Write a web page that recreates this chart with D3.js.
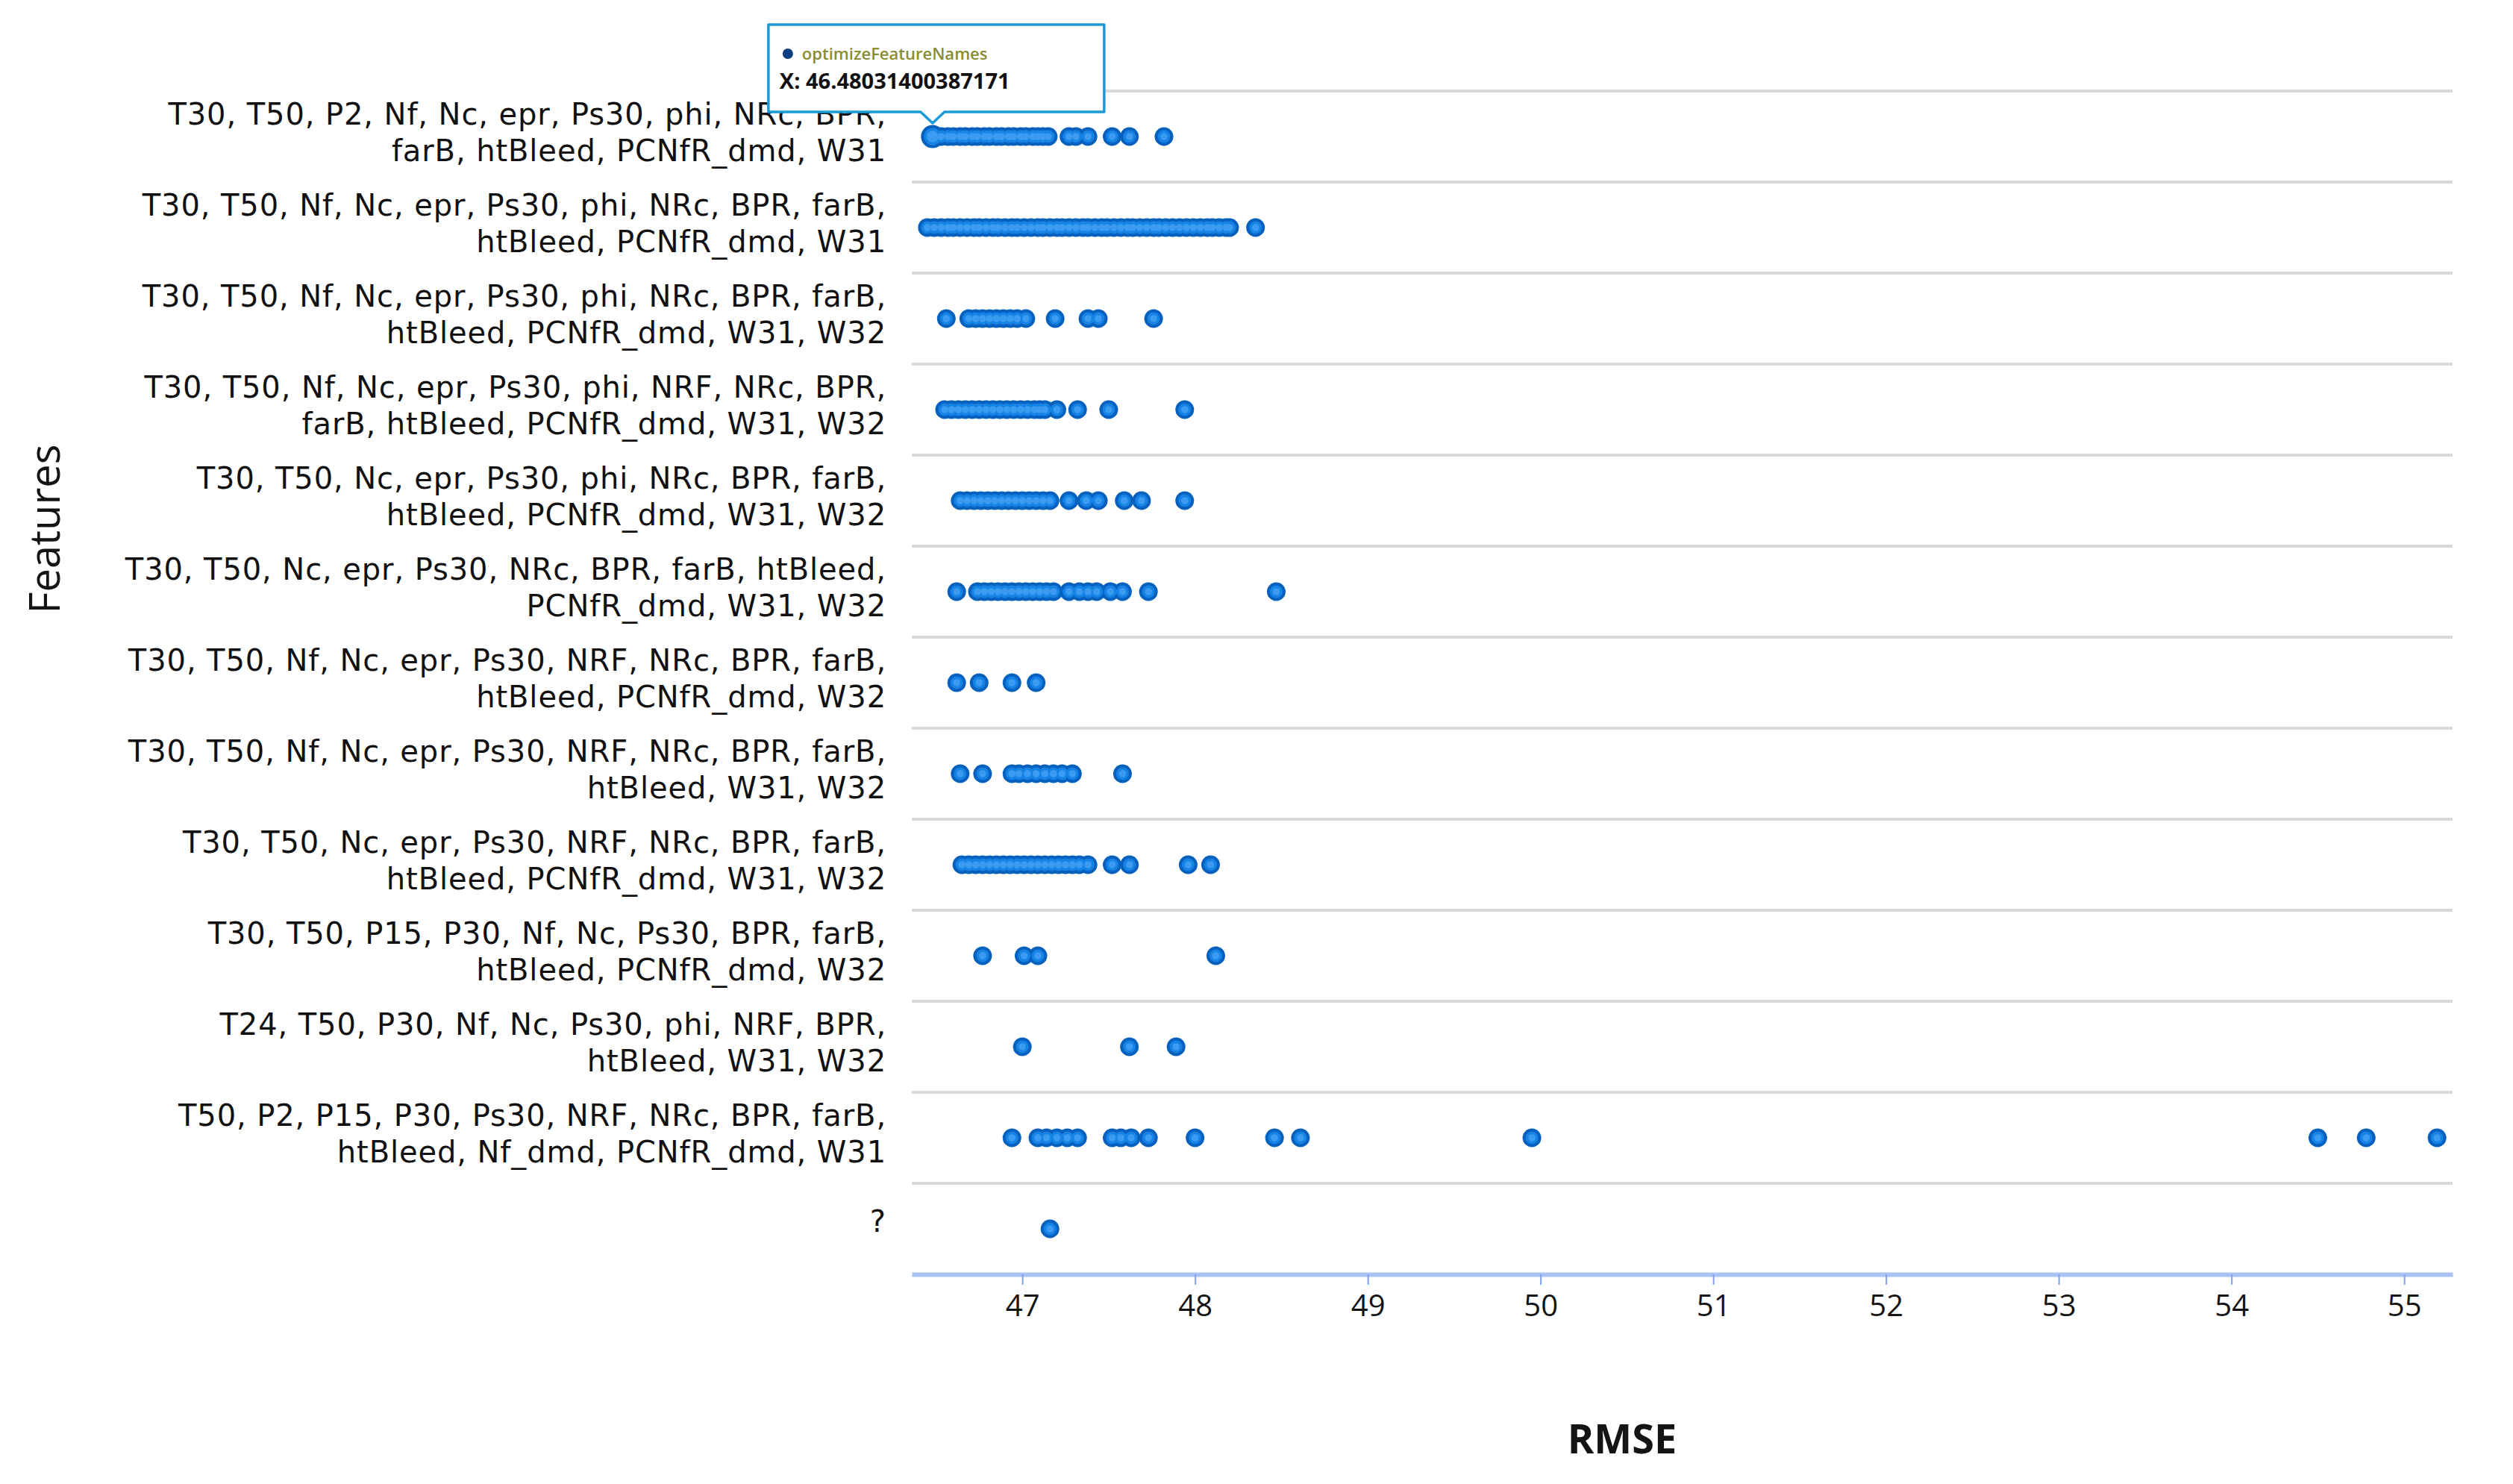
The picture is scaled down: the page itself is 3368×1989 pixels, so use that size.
<!DOCTYPE html>
<html><head><meta charset="utf-8">
<script src="https://cdn.jsdelivr.net/npm/d3@7"></script>
<style>html,body{margin:0;padding:0;background:#fff;} svg{display:block;}</style>
</head><body><svg id="chart" width="3368" height="1989"></svg>
<script>
// ---------- DATA ----------
const categories = [
  "T30, T50, P2, Nf, Nc, epr, Ps30, phi, NRc, BPR,\nfarB, htBleed, PCNfR_dmd, W31",
  "T30, T50, Nf, Nc, epr, Ps30, phi, NRc, BPR, farB,\nhtBleed, PCNfR_dmd, W31",
  "T30, T50, Nf, Nc, epr, Ps30, phi, NRc, BPR, farB,\nhtBleed, PCNfR_dmd, W31, W32",
  "T30, T50, Nf, Nc, epr, Ps30, phi, NRF, NRc, BPR,\nfarB, htBleed, PCNfR_dmd, W31, W32",
  "T30, T50, Nc, epr, Ps30, phi, NRc, BPR, farB,\nhtBleed, PCNfR_dmd, W31, W32",
  "T30, T50, Nc, epr, Ps30, NRc, BPR, farB, htBleed,\nPCNfR_dmd, W31, W32",
  "T30, T50, Nf, Nc, epr, Ps30, NRF, NRc, BPR, farB,\nhtBleed, PCNfR_dmd, W32",
  "T30, T50, Nf, Nc, epr, Ps30, NRF, NRc, BPR, farB,\nhtBleed, W31, W32",
  "T30, T50, Nc, epr, Ps30, NRF, NRc, BPR, farB,\nhtBleed, PCNfR_dmd, W31, W32",
  "T30, T50, P15, P30, Nf, Nc, Ps30, BPR, farB,\nhtBleed, PCNfR_dmd, W32",
  "T24, T50, P30, Nf, Nc, Ps30, phi, NRF, BPR,\nhtBleed, W31, W32",
  "T50, P2, P15, P30, Ps30, NRF, NRc, BPR, farB,\nhtBleed, Nf_dmd, PCNfR_dmd, W31",
  "?"
];

const rmse_r1 = [46.48031400387171, 46.53, 46.57, 46.6, 46.64, 46.67, 46.71, 46.74, 46.78, 46.81, 46.85, 46.88, 46.92, 46.95, 46.99, 47.02, 47.06, 47.09, 47.12, 47.15, 47.27, 47.31, 47.38, 47.52, 47.62, 47.82];
const rmse_r2 = [46.45, 46.49, 46.53, 46.57, 46.6, 46.64, 46.68, 46.72, 46.75, 46.79, 46.83, 46.86, 46.9, 46.94, 46.97, 47.01, 47.05, 47.09, 47.12, 47.16, 47.2, 47.23, 47.27, 47.31, 47.35, 47.38, 47.42, 47.46, 47.49, 47.53, 47.57, 47.61, 47.64, 47.68, 47.72, 47.76, 47.79, 47.83, 47.87, 47.91, 47.95, 47.99, 48.03, 48.07, 48.1, 48.14, 48.18, 48.2, 48.35];
const rmse_r3 = [46.56, 46.69, 46.73, 46.77, 46.81, 46.85, 46.89, 46.93, 46.97, 47.02, 47.19, 47.38, 47.44, 47.76];
const rmse_r4 = [46.55, 46.59, 46.63, 46.67, 46.71, 46.75, 46.79, 46.83, 46.87, 46.91, 46.95, 46.99, 47.03, 47.07, 47.1, 47.13, 47.2, 47.32, 47.5, 47.94];
const rmse_r5 = [46.64, 46.68, 46.72, 46.76, 46.8, 46.84, 46.88, 46.92, 46.96, 47.0, 47.04, 47.08, 47.12, 47.16, 47.27, 47.37, 47.44, 47.59, 47.69, 47.94];
const rmse_r6 = [46.62, 46.74, 46.78, 46.82, 46.86, 46.9, 46.94, 46.98, 47.02, 47.06, 47.1, 47.14, 47.18, 47.27, 47.33, 47.38, 47.43, 47.51, 47.58, 47.73, 48.47];
const rmse_r7 = [46.62, 46.75, 46.94, 47.08];
const rmse_r8 = [46.64, 46.77, 46.94, 46.98, 47.03, 47.08, 47.13, 47.18, 47.23, 47.29, 47.58];
const rmse_r9 = [46.65, 46.69, 46.73, 46.77, 46.81, 46.85, 46.89, 46.93, 46.97, 47.01, 47.05, 47.09, 47.13, 47.17, 47.21, 47.25, 47.29, 47.33, 47.38, 47.52, 47.62, 47.96, 48.09];
const rmse_r10 = [46.77, 47.01, 47.09, 48.12];
const rmse_r11 = [47.0, 47.62, 47.89];
const rmse_r12 = [46.94, 47.09, 47.14, 47.2, 47.26, 47.32, 47.52, 47.57, 47.63, 47.73, 48.0, 48.46, 48.61, 49.95, 54.5, 54.78, 55.19];
const rmse_r13 = [47.16];

const seriesValues = [rmse_r1, rmse_r2, rmse_r3, rmse_r4, rmse_r5, rmse_r6, rmse_r7, rmse_r8, rmse_r9, rmse_r10, rmse_r11, rmse_r12, rmse_r13];
const xTickValues = [47, 48, 49, 50, 51, 52, 53, 54, 55];
const xDomain = [46.36, 55.28];
const hoverValue = 46.48031400387171;
const seriesName = "optimizeFeatureNames";
const xTitle = "RMSE";
const yTitle = "Features";

// ---------- CHART ----------
const svg = d3.select("#chart");
svg.append("rect").attr("width", 3368).attr("height", 1989).attr("fill", "#fff");

const plotL = 1222, plotR = 3287, plotT = 122, plotB = 1708;
const x = d3.scaleLinear().domain(xDomain).range([plotL, plotR]);
const y = d3.scaleBand().domain(categories).range([plotT, plotB]);
const bw = y.bandwidth();

const labelFont = "'DejaVu Sans', 'Open Sans', sans-serif";
const tickFont = "'Open Sans', 'Noto Sans', sans-serif";
const titleFont = "'Open Sans', 'Noto Sans', sans-serif";

// gridlines (top of each band)
svg.append("g").selectAll("line").data(categories).join("line")
  .attr("x1", plotL).attr("x2", plotR)
  .attr("y1", d => y(d)).attr("y2", d => y(d))
  .attr("stroke", "#d9d9d9").attr("stroke-width", 4);

// category labels (one text element per category, lines as tspans)
const lab = svg.append("g").attr("font-family", labelFont).attr("font-size", 40)
  .attr("letter-spacing", 0.9).attr("fill", "#111");
categories.forEach(c => {
  const lines = c.split("\n");
  const cy = y(c) + bw / 2;
  const offs = lines.length === 2 ? [-30, 19] : [-10];
  const t = lab.append("text").attr("text-anchor", "end");
  lines.forEach((l, i) => {
    t.append("tspan").attr("x", 1188).attr("y", cy + offs[i]).attr("dy", "0.36em").text(l);
  });
});

// x axis
const ax = svg.append("g").attr("transform", `translate(0,${plotB})`)
  .call(d3.axisBottom(x).tickValues(xTickValues).tickFormat(d3.format("d"))
    .tickSize(14).tickSizeOuter(0).tickPadding(14));
ax.select(".domain").attr("stroke", "#a9c3f3").attr("stroke-width", 6);
ax.selectAll(".tick line").attr("stroke", "#7ea3ea").attr("stroke-width", 2);
ax.selectAll(".tick text").attr("font-family", tickFont).attr("font-size", 40)
  .attr("font-weight", 500).attr("fill", "#141414");

// points: outline layer, fill layer, highlight layer (so overlaps merge smoothly)
const layers = [
  { r: 12.5, fill: "#0660bd" },
  { r: 8.5, fill: "#1583e6" },
  { r: 4.8, fill: "#3a9bf0" }
];
categories.forEach((c, i) => {
  const g = svg.append("g");
  layers.forEach(ly => {
    g.append("g").selectAll("circle").data(seriesValues[i]).join("circle")
      .attr("cx", d => x(d)).attr("cy", y(c) + bw / 2)
      .attr("r", d => (i === 0 && d === hoverValue) ? ly.r + 3 : ly.r)
      .attr("fill", ly.fill);
  });
});

const hy = y(categories[0]) + bw / 2;

// axis titles
svg.append("text").attr("x", 2174).attr("y", 1929).attr("dy", "0.35em")
  .attr("text-anchor", "middle").attr("font-family", titleFont)
  .attr("font-size", 54).attr("font-weight", 700).attr("fill", "#141414").text(xTitle);
svg.append("text").attr("transform", "translate(60,709) rotate(-90)").attr("dy", "0.35em")
  .attr("text-anchor", "middle").attr("font-family", titleFont)
  .attr("font-size", 56).attr("font-weight", 500).attr("fill", "#141414").text(yTitle);

// tooltip
const tx = x(hoverValue), ty = hy - 18;
const L = tx - 220, R = tx + 230, T = ty - 132, B = ty - 15;
const tip = svg.append("g");
tip.append("path")
  .attr("d", `M${L},${T} H${R} V${B} H${tx + 16} L${tx},${ty} L${tx - 16},${B} H${L} Z`)
  .attr("fill", "#fff").attr("stroke", "#1a9ad6").attr("stroke-width", 3.5).attr("stroke-linejoin", "round");
tip.append("circle").attr("cx", L + 26).attr("cy", T + 39).attr("r", 7).attr("fill", "#0b3d80");
tip.append("text").attr("x", L + 45).attr("y", T + 39).attr("dy", "0.35em")
  .attr("font-family", titleFont).attr("font-size", 22).attr("font-weight", 600)
  .attr("fill", "#8a8c34").text(seriesName);
tip.append("text").attr("x", L + 15).attr("y", T + 76).attr("dy", "0.35em")
  .attr("font-family", titleFont).attr("font-size", 29).attr("font-weight", 700)
  .attr("fill", "#111").text("X: " + hoverValue);
</script>
</body></html>
